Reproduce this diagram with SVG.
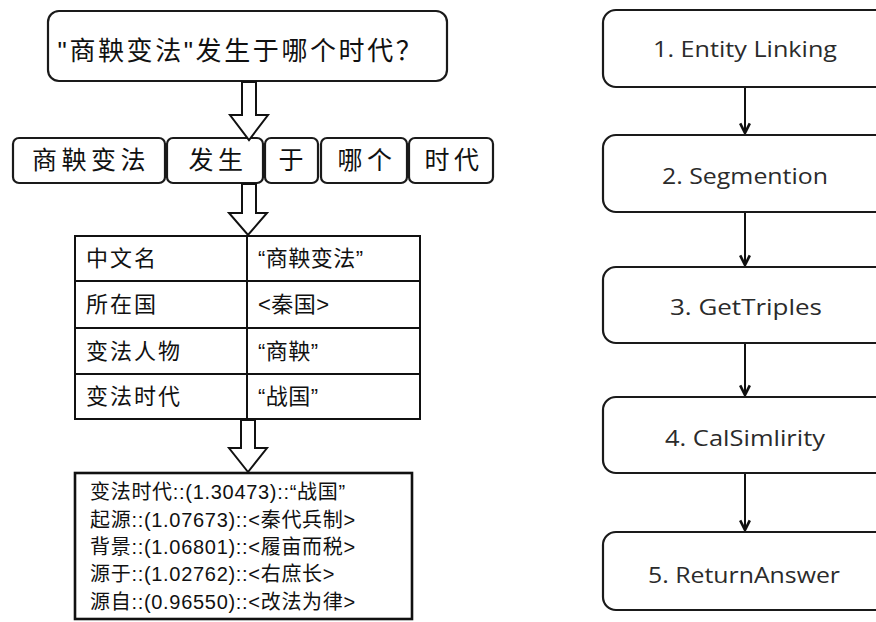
<svg xmlns="http://www.w3.org/2000/svg" width="876" height="622" viewBox="0 0 876 622">
<style>
.box{fill:#fff;stroke:#1a1a1a;stroke-width:2.2}
.cn{font-family:"Liberation Sans","Noto Sans CJK SC",sans-serif;fill:#111}
.en{font-family:"Open Sans","Noto Sans",sans-serif;fill:#2b2b2b;text-anchor:middle}
.hollow{fill:#fff;stroke:#111;stroke-width:2;stroke-linejoin:miter}
.line{stroke:#111;stroke-width:2;fill:none}
.conn{stroke:#111;stroke-width:2;fill:none;marker-end:url(#ah)}
</style>
<defs>
<marker id="ah" viewBox="0 0 10 10" refX="9" refY="5" markerWidth="12" markerHeight="12" markerUnits="userSpaceOnUse" orient="auto">
<path d="M1,1 L9,5 L1,9" fill="none" stroke="#111" stroke-width="2.2"/>
</marker>
</defs>
<rect width="876" height="622" fill="#fff"/>

<g id="question">
<rect class="box" x="48" y="11" width="399" height="70" rx="11"/>
<text class="cn" x="241" y="60" font-size="26" text-anchor="middle" letter-spacing="2.6">"商鞅变法"发生于哪个时代？</text>
</g>

<g id="segments">
<rect class="box" x="13" y="138" width="152" height="45" rx="6"/>
<text class="cn" x="91" y="169" font-size="25" text-anchor="middle" letter-spacing="4.5">商鞅变法</text>
<rect class="box" x="167" y="138" width="96" height="45" rx="6"/>
<text class="cn" x="218" y="169" font-size="25" text-anchor="middle" letter-spacing="4.5">发生</text>
<rect class="box" x="265" y="138" width="53" height="45" rx="6"/>
<text class="cn" x="291" y="169" font-size="25" text-anchor="middle">于</text>
<rect class="box" x="321" y="138" width="86" height="45" rx="6"/>
<text class="cn" x="367" y="169" font-size="25" text-anchor="middle" letter-spacing="4.5">哪个</text>
<rect class="box" x="409" y="138" width="84" height="45" rx="6"/>
<text class="cn" x="454" y="169" font-size="25" text-anchor="middle" letter-spacing="4.5">时代</text>
</g>

<g id="table">
<rect x="75" y="236" width="345" height="183" fill="#fff" stroke="#111" stroke-width="2"/>
<line class="line" x1="247" y1="236" x2="247" y2="419"/>
<line class="line" x1="75" y1="281" x2="420" y2="281"/>
<line class="line" x1="75" y1="328" x2="420" y2="328"/>
<line class="line" x1="75" y1="374" x2="420" y2="374"/>
<g class="cn" font-size="22" letter-spacing="2">
<text x="86" y="266">中文名</text>
<text x="86" y="312">所在国</text>
<text x="86" y="359">变法人物</text>
<text x="86" y="404">变法时代</text>
</g>
<g class="cn" font-size="22" letter-spacing="0.5">
<text x="258" y="266">“商鞅变法”</text>
<text x="258" y="312">&lt;秦国&gt;</text>
<text x="258" y="359">“商鞅”</text>
<text x="258" y="404">“战国”</text>
</g>
</g>

<g id="result">
<rect x="75" y="473" width="337" height="146" fill="#fff" stroke="#111" stroke-width="2.6"/>
<g class="cn" font-size="20" letter-spacing="0.7">
<text x="90" y="499">变法时代::(1.30473)::“战国”</text>
<text x="90" y="527">起源::(1.07673)::&lt;秦代兵制&gt;</text>
<text x="90" y="554">背景::(1.06801)::&lt;履亩而税&gt;</text>
<text x="90" y="581">源于::(1.02762)::&lt;右庶长&gt;</text>
<text x="90" y="609">源自::(0.96550)::&lt;改法为律&gt;</text>
</g>
</g>

<g id="step1"><rect class="box" x="603" y="10" width="290" height="77" rx="13"/><text class="en" x="745" y="57" font-size="22" textLength="184" lengthAdjust="spacingAndGlyphs">1. Entity Linking</text></g>
<g id="step2"><rect class="box" x="603" y="135" width="290" height="77" rx="13"/><text class="en" x="745" y="184" font-size="22" textLength="166" lengthAdjust="spacingAndGlyphs">2. Segmention</text></g>
<g id="step3"><rect class="box" x="603" y="267" width="290" height="76" rx="13"/><text class="en" x="746" y="315" font-size="22" textLength="152" lengthAdjust="spacingAndGlyphs">3.  GetTriples</text></g>
<g id="step4"><rect class="box" x="603" y="397" width="290" height="76" rx="13"/><text class="en" x="745" y="446" font-size="22" textLength="160" lengthAdjust="spacingAndGlyphs">4. CalSimlirity</text></g>
<g id="step5"><rect class="box" x="603" y="532" width="290" height="78" rx="13"/><text class="en" x="744" y="583" font-size="22" textLength="192" lengthAdjust="spacingAndGlyphs">5. ReturnAnswer</text></g>

<g id="connectors">
<polygon class="hollow" points="242,82 256,82 256,115 268,115 249,140 230,115 242,115"/>
<polygon class="hollow" points="242,184 256,184 256,213 267,213 248,235 229,213 242,213"/>
<polygon class="hollow" points="241,420 255,420 255,448 267,448 248,472 229,448 241,448"/>
<line class="conn" x1="745" y1="88" x2="745" y2="133"/>
<line class="conn" x1="745" y1="213" x2="745" y2="265"/>
<line class="conn" x1="745" y1="344" x2="745" y2="395"/>
<line class="conn" x1="745" y1="474" x2="745" y2="530"/>
</g>
</svg>
